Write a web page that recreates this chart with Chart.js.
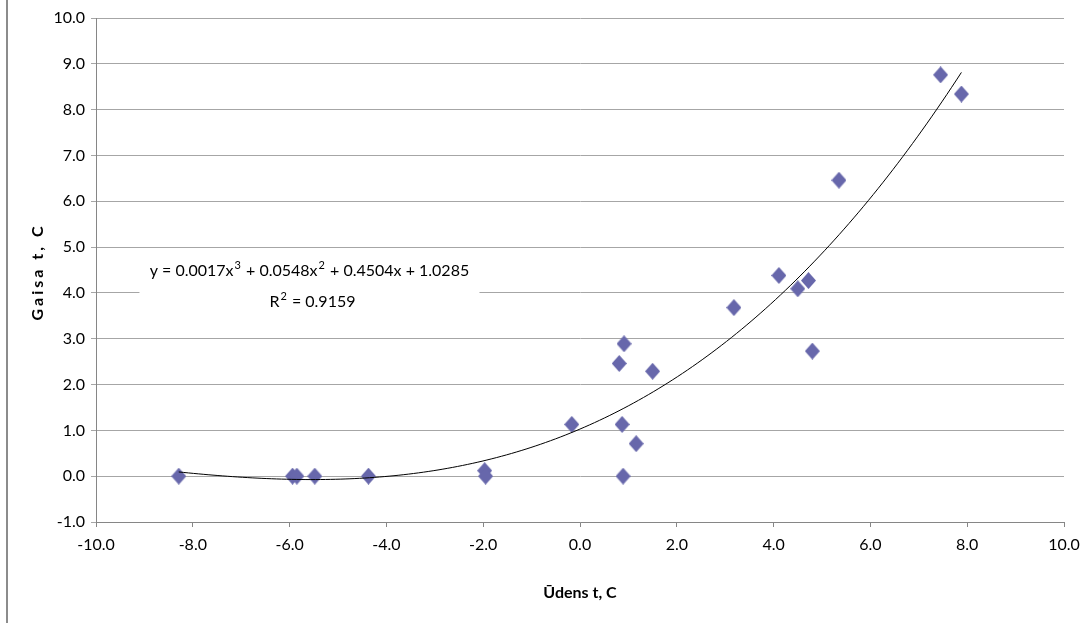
<!DOCTYPE html>
<html>
<head>
<meta charset="utf-8">
<title>Gaisa t / Ūdens t</title>
<script src="https://cdn.jsdelivr.net/npm/chart.js@4/dist/chart.umd.min.js"></script>
<style>
  html, body { margin: 0; padding: 0; background: #fff; overflow: hidden; }
  #wrap { position: relative; width: 1088px; height: 623px; }
</style>
</head>
<body>
<div id="wrap"><canvas id="scatterChart"></canvas></div>
<script>
// measured points: water temperature (x) vs air temperature (y)
const udensT = [
  -8.29, -5.94, -5.85, -5.48, -4.37, -1.97, -1.95, -0.17,
  0.81, 0.91, 0.87, 0.89, 1.16, 1.50, 3.18, 4.11,
  4.50, 4.72, 4.80, 5.35, 7.45, 7.88
];
const gaisaT = [
  0.00, 0.00, 0.00, 0.00, 0.00, 0.12, 0.00, 1.13,
  2.46, 2.89, 1.13, 0.00, 0.71, 2.29, 3.68, 4.38,
  4.09, 4.27, 2.73, 6.46, 8.76, 8.34
];

// cubic trendline: a3, a2, a1, a0
const trendCoef = [0.0017, 0.0548, 0.4504, 1.0285];
const trendR2 = 0.9159;

const xTicks = [-10, -8, -6, -4, -2, 0, 2, 4, 6, 8, 10];
const yTicks = [-1, 0, 1, 2, 3, 4, 5, 6, 7, 8, 9, 10];

const FONT = "Lato, 'Open Sans', sans-serif";
const MARKER = "#6767ab";
const GRID = "#a6a6a6";
const AXIS = "#868686";

function trendAt(x) {
  return trendCoef.reduce((acc, c) => acc * x + c, 0);
}

// trendline spans the range of the measured data
const trendPts = [];
const xMin = Math.min(...udensT), xMax = Math.max(...udensT);
const steps = 160;
for (let i = 0; i <= steps; i++) {
  const x = xMin + (xMax - xMin) * i / steps;
  trendPts.push({ x: x, y: trendAt(x) });
}

const points = udensT.map((x, i) => ({ x: x, y: gaisaT[i] }));

// diamond marker, a little taller than wide
function diamond(w, h, color) {
  const c = document.createElement("canvas");
  c.width = w; c.height = h;
  const g = c.getContext("2d");
  g.fillStyle = color;
  g.beginPath();
  g.moveTo(w / 2, 0);
  g.lineTo(w, h / 2);
  g.lineTo(w / 2, h);
  g.lineTo(0, h / 2);
  g.closePath();
  g.fill();
  return c;
}

// equation box position in data units (centre)
const eqAnchor = [-5.59, 4.15];

function drawRich(ctx, parts, cx, cy) {
  const big = "16px " + FONT, small = "11px " + FONT;
  let total = 0;
  parts.forEach((p) => {
    ctx.font = p[1] ? small : big;
    total += ctx.measureText(p[0]).width + (p[1] ? 2 : 0);
  });
  let x = cx - total / 2;
  parts.forEach((p) => {
    ctx.font = p[1] ? small : big;
    if (p[1]) x += 1;
    ctx.fillText(p[0], x, p[1] ? cy - 6 : cy);
    x += ctx.measureText(p[0]).width + (p[1] ? 1 : 0);
  });
  return total;
}

const overlayPlugin = {
  id: "overlay",
  beforeDatasetsDraw(chart) {
    const ctx = chart.ctx;
    const xs = chart.scales.x, ys = chart.scales.y;
    const cx = xs.getPixelForValue(eqAnchor[0]);
    const cy = ys.getPixelForValue(eqAnchor[1]);
    const f = (v) => v.toFixed(4);
    const line1 = [
      ["y = " + f(trendCoef[0]) + "x", false], ["3", true],
      [" + " + f(trendCoef[1]) + "x", false], ["2", true],
      [" + " + f(trendCoef[2]) + "x + " + f(trendCoef[3]), false]
    ];
    const line2 = [["R", false], ["2", true], [" = " + trendR2.toFixed(4), false]];
    ctx.save();
    ctx.textBaseline = "middle";
    ctx.textAlign = "left";
    ctx.font = "16px " + FONT;
    // white box behind the equation
    ctx.fillStyle = "#fff";
    ctx.fillRect(cx - 170, cy - 30, 340, 60);
    ctx.fillStyle = "#000";
    drawRich(ctx, line1, cx, cy - 15);
    drawRich(ctx, line2, cx + 3, cy + 16);
    ctx.restore();
  },
  afterDraw(chart) {
    const ctx = chart.ctx;
    ctx.save();
    // outer frame line on the left
    ctx.strokeStyle = "#8c8c8c";
    ctx.lineWidth = 2;
    ctx.beginPath();
    ctx.moveTo(7, 0);
    ctx.lineTo(7, chart.height);
    ctx.stroke();
    // y axis title, letter spaced
    const a = chart.chartArea;
    ctx.translate(38, (a.top + a.bottom) / 2 + 2);
    ctx.rotate(-Math.PI / 2);
    ctx.font = "bold 16px " + FONT;
    ctx.fillStyle = "#000";
    ctx.textAlign = "center";
    ctx.textBaseline = "middle";
    ctx.letterSpacing = "3px";
    ctx.fillText("Gaisa t, C", 0, 0);
    ctx.restore();
  }
};

new Chart(document.getElementById("scatterChart").getContext("2d"), {
  type: "scatter",
  data: {
    datasets: [
      {
        label: "Trend",
        type: "line",
        data: trendPts,
        borderColor: "#000",
        borderWidth: 1,
        pointRadius: 0,
        fill: false,
        tension: 0,
        order: 0
      },
      {
        label: "Gaisa t",
        data: points,
        pointStyle: diamond(15, 17, MARKER),
        backgroundColor: MARKER,
        order: 1
      }
    ]
  },
  options: {
    responsive: true,
    maintainAspectRatio: false,
    animation: false,
    events: [],
    layout: { padding: { left: 0, top: 18, right: 24, bottom: 0 } },
    plugins: {
      legend: { display: false },
      tooltip: { enabled: false }
    },
    scales: {
      x: {
        type: "linear",
        min: xTicks[0],
        max: xTicks[xTicks.length - 1],
        afterBuildTicks: (s) => { s.ticks = xTicks.map((v) => ({ value: v })); },
        afterFit: (s) => { s.height = 101; },
        ticks: {
          color: "#000",
          font: { family: FONT, size: 16 },
          padding: 8,
          maxRotation: 0,
          autoSkip: false,
          callback: (v) => Number(v).toFixed(1)
        },
        grid: { drawOnChartArea: false, drawTicks: true, tickLength: 5, color: AXIS },
        border: { color: AXIS, width: 1 },
        title: {
          display: true,
          text: "Ūdens t, C",
          color: "#000",
          font: { family: FONT, size: 16, weight: "bold" },
          padding: { top: 0, bottom: 21 }
        }
      },
      y: {
        type: "linear",
        min: yTicks[0],
        max: yTicks[yTicks.length - 1],
        afterBuildTicks: (s) => { s.ticks = yTicks.map((v) => ({ value: v })); },
        afterFit: (s) => { s.width = 96; },
        ticks: {
          color: "#000",
          font: { family: FONT, size: 16 },
          padding: 6,
          autoSkip: false,
          callback: (v) => Number(v).toFixed(1)
        },
        grid: { color: GRID, tickLength: 5, lineWidth: 1 },
        border: { color: AXIS, width: 1 }
      }
    }
  },
  plugins: [overlayPlugin]
});
</script>
</body>
</html>
